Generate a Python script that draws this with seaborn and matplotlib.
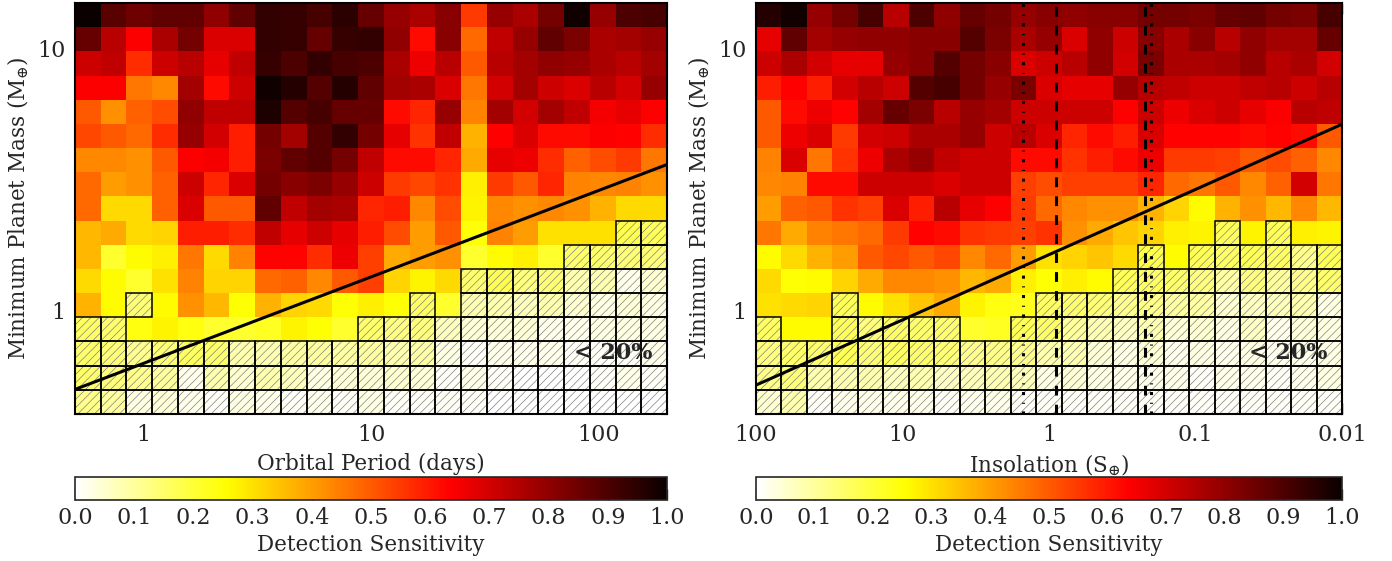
import numpy as np
import matplotlib
matplotlib.use("Agg")
import matplotlib.pyplot as plt
from matplotlib.patches import Rectangle
from matplotlib.ticker import FuncFormatter, NullFormatter
import seaborn as sns

sns.set_style("ticks")
plt.rcParams['font.family'] = ['DejaVu Serif']
plt.rcParams['mathtext.fontset'] = 'dejavuserif'
plt.rcParams['hatch.linewidth'] = 0.5

# ---------------- data ----------------
period_range = (0.5, 200.0)      # days, 23 log bins
insolation_range = (100.0, 0.01)  # S_earth, 23 log bins
mass_range = (0.4, 15.0)          # M_earth, 17 log bins
n_x_bins = 23
n_y_bins = 17
threshold = 0.2

# detection sensitivity, rows listed from top (highest mass) to bottom
sens_period = [
    [1.00,0.88,0.85,0.87,0.87,0.80,0.87,0.94,0.93,0.91,0.95,0.86,0.79,0.76,0.81,0.55,0.79,0.76,0.84,0.99,0.79,0.90,0.91],
    [0.86,0.74,0.64,0.76,0.84,0.69,0.69,0.94,0.93,0.86,0.93,0.94,0.80,0.62,0.81,0.48,0.73,0.79,0.87,0.83,0.76,0.77,0.79],
    [0.71,0.73,0.57,0.71,0.74,0.67,0.73,0.93,0.90,0.94,0.91,0.90,0.76,0.66,0.74,0.50,0.74,0.77,0.80,0.79,0.76,0.74,0.77],
    [0.64,0.64,0.46,0.43,0.77,0.62,0.71,0.99,0.96,0.89,0.96,0.87,0.77,0.76,0.69,0.46,0.70,0.77,0.71,0.69,0.74,0.70,0.79],
    [0.50,0.42,0.49,0.52,0.80,0.73,0.73,0.97,0.89,0.91,0.86,0.86,0.62,0.58,0.79,0.44,0.77,0.70,0.77,0.73,0.65,0.67,0.635],
    [0.53,0.50,0.48,0.57,0.79,0.70,0.59,0.84,0.77,0.89,0.94,0.84,0.67,0.56,0.73,0.37,0.635,0.69,0.62,0.62,0.64,0.63,0.57],
    [0.43,0.43,0.42,0.50,0.64,0.65,0.59,0.83,0.87,0.89,0.84,0.73,0.62,0.62,0.58,0.38,0.67,0.66,0.57,0.49,0.52,0.55,0.46],
    [0.48,0.40,0.42,0.49,0.71,0.58,0.69,0.84,0.81,0.83,0.79,0.71,0.55,0.53,0.56,0.28,0.55,0.50,0.58,0.44,0.43,0.44,0.42],
    [0.48,0.31,0.31,0.49,0.69,0.50,0.50,0.87,0.73,0.77,0.76,0.58,0.59,0.43,0.52,0.27,0.43,0.42,0.43,0.42,0.37,0.31,0.31],
    [0.36,0.38,0.31,0.32,0.59,0.59,0.57,0.73,0.67,0.71,0.67,0.59,0.52,0.40,0.50,0.25,0.44,0.40,0.30,0.30,0.30,0.18,0.17],
    [0.36,0.21,0.26,0.28,0.46,0.31,0.44,0.63,0.63,0.57,0.66,0.54,0.38,0.40,0.42,0.21,0.26,0.28,0.21,0.15,0.15,0.14,0.14],
    [0.31,0.26,0.21,0.30,0.44,0.32,0.32,0.48,0.49,0.43,0.50,0.54,0.32,0.27,0.31,0.145,0.175,0.13,0.14,0.08,0.08,0.02,0.05],
    [0.37,0.26,0.14,0.26,0.42,0.36,0.25,0.37,0.32,0.31,0.25,0.28,0.25,0.16,0.21,0.08,0.08,0.07,0.08,0.05,0.03,0.04,0.03],
    [0.16,0.15,0.24,0.27,0.24,0.21,0.21,0.22,0.27,0.25,0.21,0.15,0.13,0.13,0.07,0.04,0.04,0.04,0.02,0.02,0.03,0.03,0.03],
    [0.15,0.14,0.11,0.14,0.16,0.15,0.08,0.08,0.09,0.10,0.09,0.10,0.08,0.09,0.03,0.01,0.02,0.02,0.02,0.01,0.01,0.01,0.02],
    [0.15,0.13,0.12,0.10,0.02,0.08,0.05,0.08,0.07,0.03,0.04,0.04,0.05,0.04,0.01,0.02,0.01,0.00,0.00,0.00,0.01,0.02,0.01],
    [0.12,0.10,0.03,0.04,0.02,0.01,0.03,0.02,0.01,0.02,0.01,0.03,0.01,0.01,0.01,0.01,0.00,0.00,0.00,0.00,0.00,0.00,0.00],
]

sens_insolation = [
    [0.96,0.99,0.79,0.84,0.91,0.74,0.90,0.80,0.86,0.84,0.79,0.81,0.80,0.81,0.81,0.84,0.84,0.83,0.86,0.87,0.84,0.83,0.91],
    [0.67,0.87,0.77,0.79,0.80,0.80,0.81,0.81,0.89,0.83,0.76,0.79,0.69,0.80,0.71,0.81,0.76,0.81,0.74,0.80,0.77,0.77,0.86],
    [0.71,0.76,0.70,0.67,0.67,0.79,0.81,0.89,0.84,0.81,0.69,0.71,0.74,0.80,0.70,0.83,0.76,0.76,0.77,0.80,0.74,0.76,0.70],
    [0.59,0.635,0.59,0.70,0.74,0.71,0.89,0.91,0.84,0.79,0.83,0.69,0.67,0.67,0.79,0.74,0.73,0.71,0.71,0.73,0.74,0.71,0.74],
    [0.50,0.62,0.66,0.63,0.77,0.86,0.83,0.74,0.79,0.77,0.71,0.71,0.71,0.71,0.635,0.71,0.66,0.69,0.71,0.67,0.64,0.74,0.73],
    [0.50,0.66,0.69,0.55,0.70,0.71,0.76,0.76,0.79,0.71,0.74,0.69,0.58,0.62,0.59,0.69,0.63,0.63,0.63,0.62,0.63,0.62,0.50],
    [0.44,0.69,0.46,0.56,0.66,0.76,0.79,0.73,0.71,0.71,0.62,0.62,0.56,0.59,0.62,0.66,0.55,0.55,0.54,0.50,0.52,0.49,0.43],
    [0.43,0.44,0.62,0.62,0.71,0.71,0.71,0.69,0.71,0.71,0.54,0.52,0.54,0.54,0.54,0.58,0.48,0.46,0.50,0.43,0.49,0.70,0.46],
    [0.40,0.49,0.50,0.56,0.54,0.69,0.59,0.74,0.67,0.635,0.55,0.48,0.43,0.42,0.42,0.37,0.32,0.26,0.37,0.42,0.36,0.43,0.36],
    [0.46,0.38,0.44,0.46,0.48,0.55,0.63,0.62,0.56,0.55,0.54,0.56,0.42,0.38,0.34,0.32,0.28,0.27,0.17,0.27,0.17,0.28,0.27],
    [0.26,0.31,0.37,0.40,0.50,0.53,0.50,0.53,0.43,0.48,0.40,0.30,0.32,0.34,0.31,0.18,0.26,0.17,0.16,0.17,0.16,0.12,0.17],
    [0.31,0.25,0.26,0.32,0.38,0.43,0.43,0.42,0.36,0.38,0.28,0.25,0.28,0.26,0.17,0.16,0.15,0.13,0.09,0.13,0.10,0.12,0.15],
    [0.30,0.31,0.32,0.17,0.26,0.30,0.34,0.38,0.27,0.24,0.23,0.16,0.15,0.14,0.12,0.12,0.10,0.09,0.05,0.06,0.07,0.08,0.03],
    [0.16,0.26,0.26,0.17,0.13,0.16,0.15,0.15,0.21,0.22,0.17,0.16,0.10,0.08,0.06,0.08,0.04,0.05,0.03,0.06,0.02,0.04,0.03],
    [0.13,0.15,0.15,0.17,0.14,0.16,0.15,0.14,0.12,0.12,0.12,0.08,0.08,0.04,0.03,0.04,0.02,0.03,0.02,0.03,0.02,0.02,0.03],
    [0.12,0.14,0.08,0.08,0.08,0.07,0.08,0.06,0.07,0.08,0.07,0.03,0.04,0.03,0.02,0.02,0.02,0.01,0.02,0.02,0.01,0.02,0.03],
    [0.05,0.08,0.01,0.02,0.02,0.02,0.02,0.01,0.02,0.02,0.01,0.01,0.01,0.01,0.01,0.01,0.01,0.01,0.01,0.01,0.01,0.01,0.01],
]

# constant-semi-amplitude limit lines (endpoints)
limit_period = [0.5, 200.0]
limit_period_mass = [0.497, 3.61]
limit_insolation = [100.0, 0.01]
limit_insolation_mass = [0.516, 5.15]

# habitable zone boundaries (insolation)
hz_conservative = [0.90, 0.221]
hz_optimistic = [1.50, 0.20]

xlabel_left = "Orbital Period (days)"
xlabel_right = r"Insolation ($\mathrm{S}_{\oplus}$)"
ylabel = r"Minimum Planet Mass ($\mathrm{M}_{\oplus}$)"
cbar_label = "Detection Sensitivity"
note = "< 20%"
cbar_ticks = [0.0, 0.1, 0.2, 0.3, 0.4, 0.5, 0.6, 0.7, 0.8, 0.9, 1.0]

# ---------------- figure ----------------
W, H = 1392, 561
fig = plt.figure(figsize=(W / 100, H / 100), dpi=100)
ax1 = fig.add_axes([75 / W, 1 - 414 / H, 592 / W, 411 / H])
ax2 = fig.add_axes([756 / W, 1 - 414 / H, 586 / W, 411 / H])
cax1 = fig.add_axes([75 / W, 1 - 500 / H, 592 / W, 23 / H])
cax2 = fig.add_axes([756 / W, 1 - 500 / H, 586 / W, 23 / H])

y_edges = np.geomspace(mass_range[0], mass_range[1], n_y_bins + 1)
fmt = FuncFormatter(lambda v, _: f"{v:g}")


def draw_panel(ax, cax, x_range, values, line_x, line_y, xlabel):
    x_edges = np.geomspace(x_range[0], x_range[1], n_x_bins + 1)
    Z = np.array(values)[::-1]  # bottom row first
    ax.set_xscale('log')
    ax.set_yscale('log')
    mesh = ax.pcolormesh(x_edges, y_edges, Z, cmap='hot_r', vmin=0, vmax=1,
                         shading='flat', linewidth=0)
    # hatch low-sensitivity cells
    for i in range(Z.shape[0]):
        for j in range(Z.shape[1]):
            if Z[i, j] < threshold:
                x0, x1 = sorted((x_edges[j], x_edges[j + 1]))
                y0, y1 = y_edges[i], y_edges[i + 1]
                ax.add_patch(Rectangle((x0, y0), x1 - x0, y1 - y0, fill=False,
                                       hatch='////', edgecolor='0.5', lw=0, zorder=2))
                ax.add_patch(Rectangle((x0, y0), x1 - x0, y1 - y0, fill=False,
                                       edgecolor='k', lw=1.1, zorder=3))
    sns.lineplot(x=line_x, y=line_y, ax=ax, color='k', lw=2.2, zorder=5)
    ax.set_xlim(x_range[0], x_range[1])
    ax.set_ylim(mass_range[0], mass_range[1])
    ax.xaxis.set_major_formatter(fmt)
    ax.yaxis.set_major_formatter(fmt)
    ax.xaxis.set_minor_formatter(NullFormatter())
    ax.yaxis.set_minor_formatter(NullFormatter())
    ax.tick_params(which='both', direction='in', top=True, right=True,
                   labelsize=16, color='k')
    ax.tick_params(which='major', length=8, width=1.0, pad=7)
    ax.tick_params(which='minor', length=4, width=0.8)
    for s in ax.spines.values():
        s.set_linewidth(1.5)
        s.set_color('k')
    ax.set_xlabel(xlabel, fontsize=15.5, labelpad=5)
    ax.set_ylabel(ylabel, fontsize=15.5, labelpad=4)
    ax.text(0.975, 0.148, note, transform=ax.transAxes, ha='right', va='center',
            fontsize=16, fontweight='bold', zorder=6)
    cb = fig.colorbar(mesh, cax=cax, orientation='horizontal', ticks=cbar_ticks)
    cb.outline.set_linewidth(1.2)
    cb.ax.xaxis.set_major_formatter(FuncFormatter(lambda v, _: f"{v:.1f}"))
    cb.ax.tick_params(direction='in', length=8, width=1.0, labelsize=16,
                      bottom=True, top=False, pad=5)
    cb.set_label(cbar_label, fontsize=15.5, labelpad=4)
    return mesh


draw_panel(ax1, cax1, period_range, sens_period, limit_period, limit_period_mass, xlabel_left)
draw_panel(ax2, cax2, insolation_range, sens_insolation, limit_insolation,
           limit_insolation_mass, xlabel_right)

for s in hz_conservative:
    ax2.axvline(s, color='k', lw=2.2, linestyle=(0, (3.2, 3.0)), zorder=4)
for s in hz_optimistic:
    ax2.axvline(s, color='k', lw=2.2, linestyle=(0, (1.0, 2.5, 0.35, 2.5)), zorder=4)

fig.savefig("out.png", dpi=100)
